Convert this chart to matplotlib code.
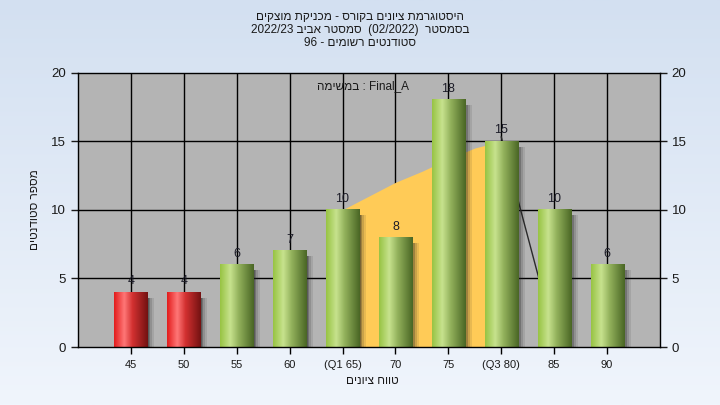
import re
import numpy as np
import matplotlib
matplotlib.use("Agg")
import matplotlib.pyplot as plt
from matplotlib.colors import LinearSegmentedColormap
from matplotlib.patches import Rectangle

plt.rcParams['font.family'] = ['Liberation Sans', 'DejaVu Sans']

# ---------------- data ----------------
categories = ["45", "50", "55", "60", "(Q1 65)", "70", "75", "(Q3 80)", "85", "90"]
counts = [4, 4, 6, 7, 10, 8, 18, 15, 10, 6]
failing = [True, True, False, False, False, False, False, False, False, False]
y_ticks = [0, 5, 10, 15, 20]
# yellow band between Q1 and Q3 (category index, height)
band_x = [4, 5, 5.5, 6, 6.5, 7]
band_y = [10, 12.0, 12.8, 13.7, 14.5, 15]
# dark curve segment visible between 80 and 85
curve_x = [7, 8]
curve_y = [15.3, 0.8]

title_lines = ["היסטוגרמת ציונים בקורס - מכניקת מוצקים",
               "בסמסטר  (02/2022)  סמסטר אביב 2022/23",
               "סטודנטים רשומים - 96"]
note_text = "Final_A : במשימה"
x_label = "טווח ציונים"
y_label = "מספר סטודנטים"


def rtl(s):
    """Convert a logical right-to-left string into visual (left-to-right glyph) order."""
    toks = re.split(r'([A-Za-z0-9_]+(?:[/.][A-Za-z0-9_]+)*)', s)
    mirror = {'(': ')', ')': '('}
    out = []
    for i, t in enumerate(toks):
        if i % 2 == 1:
            out.append(t)
        else:
            out.append(''.join(mirror.get(c, c) for c in t[::-1]))
    return ''.join(out[::-1])


# ---------------- figure ----------------
W, H = 720, 405
fig = plt.figure(figsize=(W / 100, H / 100), dpi=100)

# background gradient
bg = fig.add_axes([0, 0, 1, 1], zorder=-10)
grad = np.linspace(0, 1, 256).reshape(-1, 1)
bg_cmap = LinearSegmentedColormap.from_list("bg", ["#d3e0f1", "#f0f5fc"])
bg.imshow(grad, aspect='auto', cmap=bg_cmap, extent=[0, 1, 0, 1], origin='upper')
bg.set_axis_off()

ax = fig.add_axes([78 / W, 1 - 347 / H, (660 - 78) / W, (347 - 72.5) / H])
ax.set_facecolor("#b4b4b4")

x = np.arange(len(categories))
bw = 0.625
px_x = 11 / 582.0
px_y = 20 / 274.5

# grid
for yv in y_ticks[1:-1]:
    ax.axhline(yv, color='black', lw=1, zorder=1)
for xv in x:
    ax.axvline(xv, color='black', lw=1, zorder=1)

# yellow band
ax.fill_between(band_x, 0, band_y, color="#ffcb57", lw=0, zorder=1.5)
ax.plot(curve_x, curve_y, color="#2a2a2a", lw=1, zorder=1.6)

green_cmap = LinearSegmentedColormap.from_list(
    "g", [(0, "#98c444"), (0.3, "#c7e28e"), (0.55, "#93b25c"), (1, "#4a6625")])
red_cmap = LinearSegmentedColormap.from_list(
    "r", [(0, "#e31d1d"), (0.3, "#ff7777"), (0.55, "#d23030"), (1, "#741212")])
hgrad = np.linspace(0, 1, 64).reshape(1, -1)

for xi, v, bad in zip(x, counts, failing):
    left = xi - bw / 2
    right = xi + bw / 2
    # shadow
    for k, a in [(7, 0.10), (5, 0.15), (3, 0.25), (1.5, 0.3)]:
        ax.add_patch(Rectangle((right, -1.5 * px_y), k * px_x, v - 4 * px_y,
                               facecolor="#202020", alpha=a, lw=0, zorder=2))
    ax.imshow(hgrad, aspect='auto', cmap=red_cmap if bad else green_cmap,
              extent=[left, right, 0, v], zorder=3, interpolation='bilinear')
    ax.annotate(str(v), (xi, v), xytext=(0, 5.5), textcoords='offset points',
                ha='center', va='baseline', fontsize=9, color="#1c1c28", zorder=5)

ax.set_xlim(-1, 10)
ax.set_ylim(0, 20)
ax.set_xticks(x)
ax.set_xticklabels(categories, fontsize=8, color="#1a1a1a")
ax.set_yticks(y_ticks)
ax.tick_params(axis='y', labelsize=9.5, colors="#1a1a1a", length=5, direction='out',
               right=True, labelright=True, width=1)
ax.tick_params(axis='x', length=5, direction='out', width=1, pad=4)
for s in ax.spines.values():
    s.set_color('black')
    s.set_linewidth(1)
    s.set_zorder(6)

# texts
fig.text(360 / W, 1 - 17 / H, rtl(title_lines[0]), ha='center', va='center', fontsize=8.5, color="#1a1a1a")
fig.text(360 / W, 1 - 30 / H, rtl(title_lines[1]), ha='center', va='center', fontsize=8.5, color="#1a1a1a")
fig.text(360 / W, 1 - 43 / H, rtl(title_lines[2]), ha='center', va='center', fontsize=8.5, color="#1a1a1a")
fig.text(363 / W, 1 - 86 / H, rtl(note_text), ha='center', va='center', fontsize=8.5, color="#1a1a1a")
fig.text(372 / W, 1 - 381 / H, rtl(x_label), ha='center', va='center', fontsize=8.5, color="#1a1a1a")
fig.text(35 / W, 1 - 210 / H, rtl(y_label), ha='center', va='center', rotation=90, fontsize=8.5, color="#1a1a1a")

fig.savefig("out.png", dpi=100)
